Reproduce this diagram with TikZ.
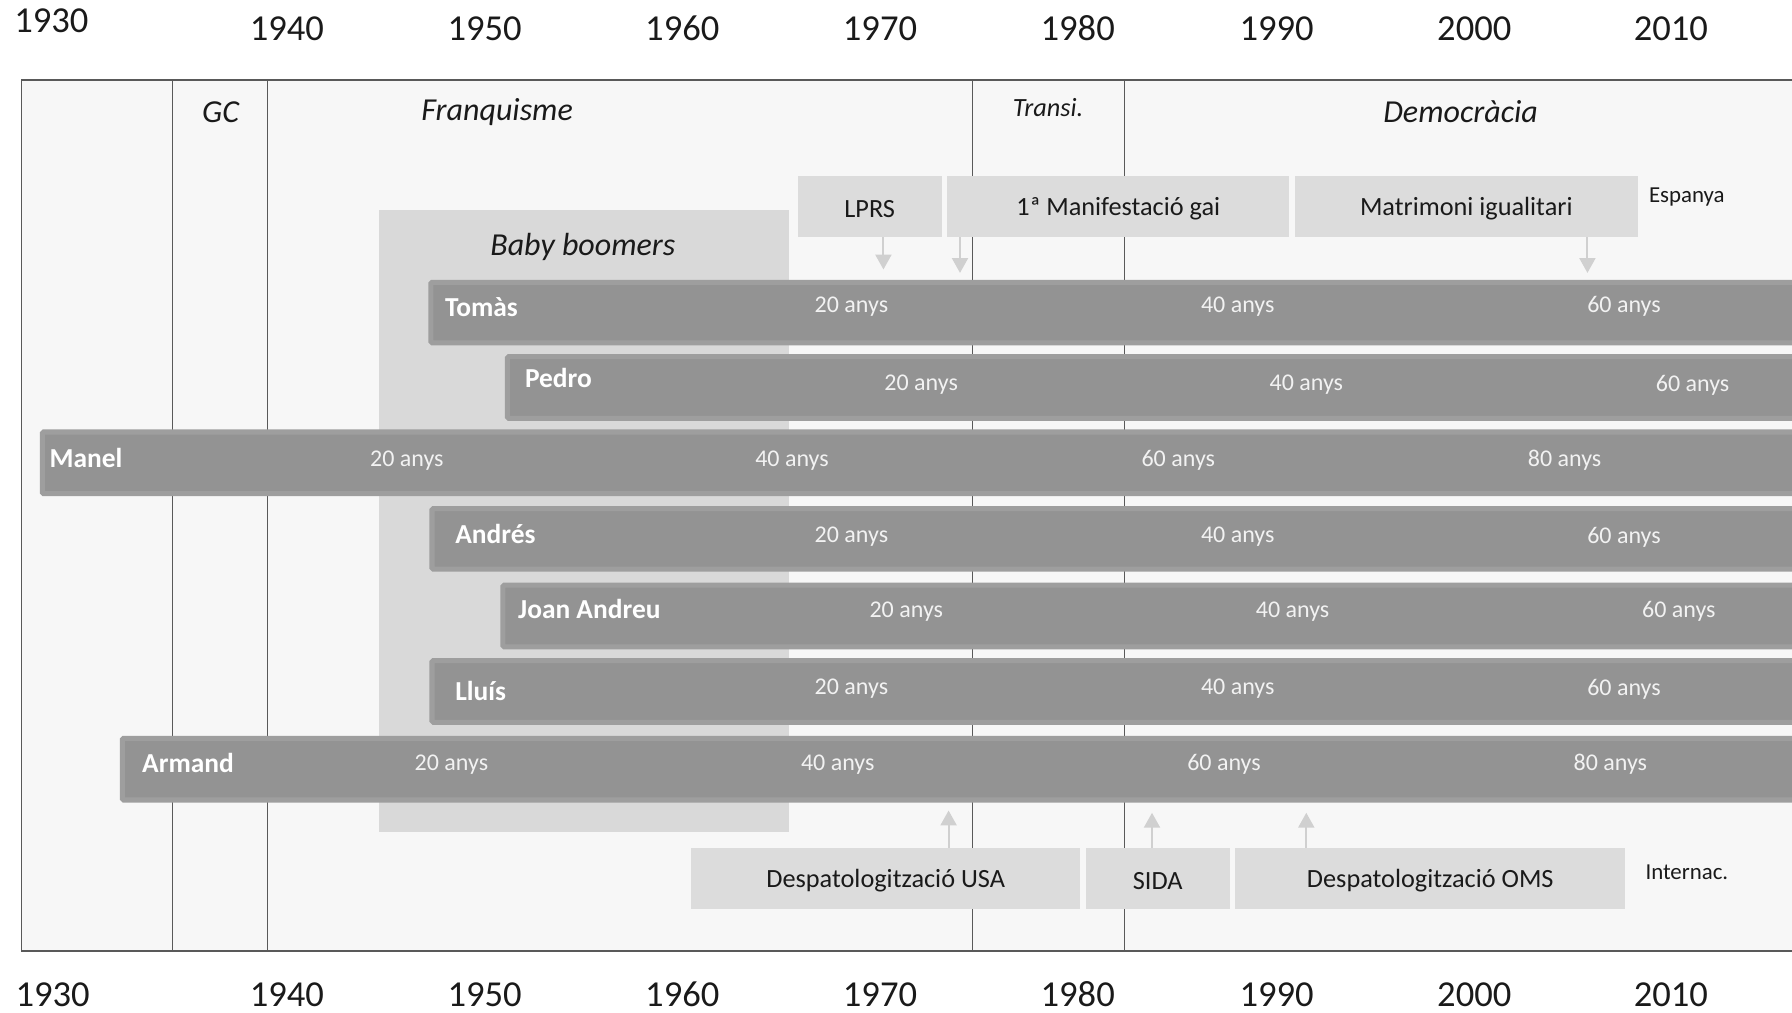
\documentclass[tikz,border=0pt]{standalone}
\usepackage{fontspec}
\setmainfont{Carlito}
\usetikzlibrary{fit,arrows.meta}
\definecolor{framebg}{HTML}{F7F7F7}
\definecolor{framedraw}{HTML}{595959}
\definecolor{babybg}{HTML}{D9D9D9}
\definecolor{eventbg}{HTML}{DCDCDC}
\definecolor{barfill}{HTML}{939393}
\definecolor{baredge}{HTML}{9E9E9E}
\definecolor{arrowcol}{HTML}{D0D0D0}
\definecolor{textcol}{HTML}{1A1A1A}
\tikzset{
  yearlab/.style={font=\fontsize{16}{18}\selectfont, text=textcol, inner sep=0},
  periodlab/.style={font=\fontsize{14}{16}\selectfont\itshape, text=textcol, inner sep=0, yshift=-1pt},
  smallperiod/.style={font=\fontsize{11.5}{13}\selectfont\itshape, text=textcol, inner sep=0, yshift=-0.5pt},
  eventbox/.style={fill=eventbg, draw=none, inner sep=0},
  eventlab/.style={font=\fontsize{11.5}{13}\selectfont, text=textcol, inner sep=0, yshift=-1pt},
  regionlab/.style={font=\fontsize{10}{12}\selectfont, text=textcol, inner sep=0, yshift=-0.5pt},
  personbar/.style={fill=barfill, draw=baredge, line width=2.2pt, inner sep=0, rounded corners=0.6pt},
  namelab/.style={font=\fontsize{12}{14}\selectfont\bfseries, text=white, inner sep=0, anchor=west, yshift=-0.5pt},
  agelab/.style={font=\fontsize{10.5}{12}\selectfont, text=white!95!black, inner sep=0, yshift=-1pt},
  periodline/.style={draw=framedraw, line width=0.5pt},
  evarrow/.style={draw=arrowcol, line width=0.9pt, -{Triangle[length=6.5pt,width=7pt]}},
}
\begin{document}
\begin{tikzpicture}[x=0.5pt,y=-0.5pt]
\useasboundingbox (0,0) rectangle (1568,886);
\clip (0,0) rectangle (1568,886);
% frame
\path[fill=framebg, draw=framedraw, line width=0.6pt] (19,70) rectangle (1600,832);
% period lines
\draw[periodline] (151,70) -- (151,832);
\draw[periodline] (234,70) -- (234,832);
\draw[periodline] (851,70) -- (851,832);
\draw[periodline] (984,70) -- (984,832);
% years
\node[yearlab] (t1930) at (45,18) {1930};
\node[yearlab] (t1940) at (251,25) {1940};
\node[yearlab] (t1950) at (424,25) {1950};
\node[yearlab] (t1960) at (597,25) {1960};
\node[yearlab] (t1970) at (770,25) {1970};
\node[yearlab] (t1980) at (943,25) {1980};
\node[yearlab] (t1990) at (1117,25) {1990};
\node[yearlab] (t2000) at (1290,25) {2000};
\node[yearlab] (t2010) at (1462,25) {2010};
\node[yearlab] (b1930) at (46,870) {1930};
\node[yearlab] (b1940) at (251,870) {1940};
\node[yearlab] (b1950) at (424,870) {1950};
\node[yearlab] (b1960) at (597,870) {1960};
\node[yearlab] (b1970) at (770,870) {1970};
\node[yearlab] (b1980) at (943,870) {1980};
\node[yearlab] (b1990) at (1117,870) {1990};
\node[yearlab] (b2000) at (1290,870) {2000};
\node[yearlab] (b2010) at (1462,870) {2010};
% periods
\node[periodlab] (gc) at (193,96) {GC};
\node[periodlab] (franq) at (435,96) {Franquisme};
\node[smallperiod] (transi) at (917,93) {Transi.};
\node[periodlab] (democ) at (1278,96) {Democràcia};
% baby boomers
\node[fill=babybg, inner sep=0, fit={(332,184) (690,728)}] (baby) {};
\node[periodlab] (babylab) at (510,214) {Baby boomers};
% events top
\node[eventbox, fit={(698,154) (824,207)}] (lprs) {};
\node[eventlab] at (lprs.center) {LPRS};
\node[eventbox, fit={(829,154) (1128,207)}] (manif) {};
\node[eventlab] at (manif.center) {1ª Manifestació gai};
\node[eventbox, fit={(1133,154) (1433,207)}] (matri) {};
\node[eventlab] at (matri.center) {Matrimoni igualitari};
\node[regionlab] (espanya) at (1476,171) {Espanya};
% events bottom
\node[eventbox, fit={(605,742) (945,795)}] (usa) {};
\node[eventlab] at (usa.center) {Despatologització USA};
\node[eventbox, fit={(950,742) (1076,795)}] (sida) {};
\node[eventlab] at (sida.center) {SIDA};
\node[eventbox, fit={(1081,742) (1422,795)}] (oms) {};
\node[eventlab] at (oms.center) {Despatologització OMS};
\node[regionlab] (internac) at (1476,762) {Internac.};
% person bars
\node[personbar, fit={(377,247) (1600,300)}] (tomas) {};
\node[personbar, fit={(444,312) (1600,366)}] (pedro) {};
\node[personbar, fit={(37,378) (1600,432)}] (manel) {};
\node[personbar, fit={(378,445) (1600,498)}] (andres) {};
\node[personbar, fit={(440,512) (1600,566)}] (joan) {};
\node[personbar, fit={(378,578) (1600,632)}] (lluis) {};
\node[personbar, fit={(107,646) (1600,700)}] (armand) {};
% arrows
\coordinate (xa) at (773,0);
\coordinate (xb) at (840,0);
\coordinate (xc) at (1389,0);
\coordinate (xd) at (830,0);
\coordinate (xe) at (1008,0);
\coordinate (xf) at (1143,0);
\draw[evarrow, shorten >=4.5pt] (lprs.south -| xa) -- (tomas.north -| xa);
\draw[evarrow, shorten >=3pt] (manif.south -| xb) -- (tomas.north -| xb);
\draw[evarrow, shorten >=3pt] (matri.south -| xc) -- (tomas.north -| xc);
\draw[evarrow, shorten >=3.5pt] (usa.north -| xd) -- (armand.south -| xd);
\draw[evarrow, shorten >=4.5pt] (sida.north -| xe) -- (armand.south -| xe);
\draw[evarrow, shorten >=4.5pt] (oms.north -| xf) -- (armand.south -| xf);
% names
\node[namelab] (ntomas) at (389,268) {Tomàs};
\node[namelab] (npedro) at (459,330) {Pedro};
\node[namelab] (nmanel) at (43,400) {Manel};
\node[namelab] (nandres) at (398,466) {Andrés};
\node[namelab] (njoan) at (453,532) {Joan Andreu};
\node[namelab] (nlluis) at (398,604) {Lluís};
\node[namelab] (narmand) at (124,667) {Armand};
% ages
\node[agelab] (tomas20) at (745,266) {20 anys};
\node[agelab] (tomas40) at (1083,266) {40 anys};
\node[agelab] (tomas60) at (1421,266) {60 anys};
\node[agelab] (pedro20) at (806,335) {20 anys};
\node[agelab] (pedro40) at (1143,335) {40 anys};
\node[agelab] (pedro60) at (1481,335) {60 anys};
\node[agelab] (manel20) at (356,401) {20 anys};
\node[agelab] (manel40) at (693,401) {40 anys};
\node[agelab] (manel60) at (1031,401) {60 anys};
\node[agelab] (manel80) at (1369,401) {80 anys};
\node[agelab] (andres20) at (745,468) {20 anys};
\node[agelab] (andres40) at (1083,468) {40 anys};
\node[agelab] (andres60) at (1421,468) {60 anys};
\node[agelab] (joan20) at (793,533) {20 anys};
\node[agelab] (joan40) at (1131,533) {40 anys};
\node[agelab] (joan60) at (1469,533) {60 anys};
\node[agelab] (lluis20) at (745,601) {20 anys};
\node[agelab] (lluis40) at (1083,601) {40 anys};
\node[agelab] (lluis60) at (1421,601) {60 anys};
\node[agelab] (armand20) at (395,667) {20 anys};
\node[agelab] (armand40) at (733,667) {40 anys};
\node[agelab] (armand60) at (1071,667) {60 anys};
\node[agelab] (armand80) at (1409,667) {80 anys};
\end{tikzpicture}
\end{document}
